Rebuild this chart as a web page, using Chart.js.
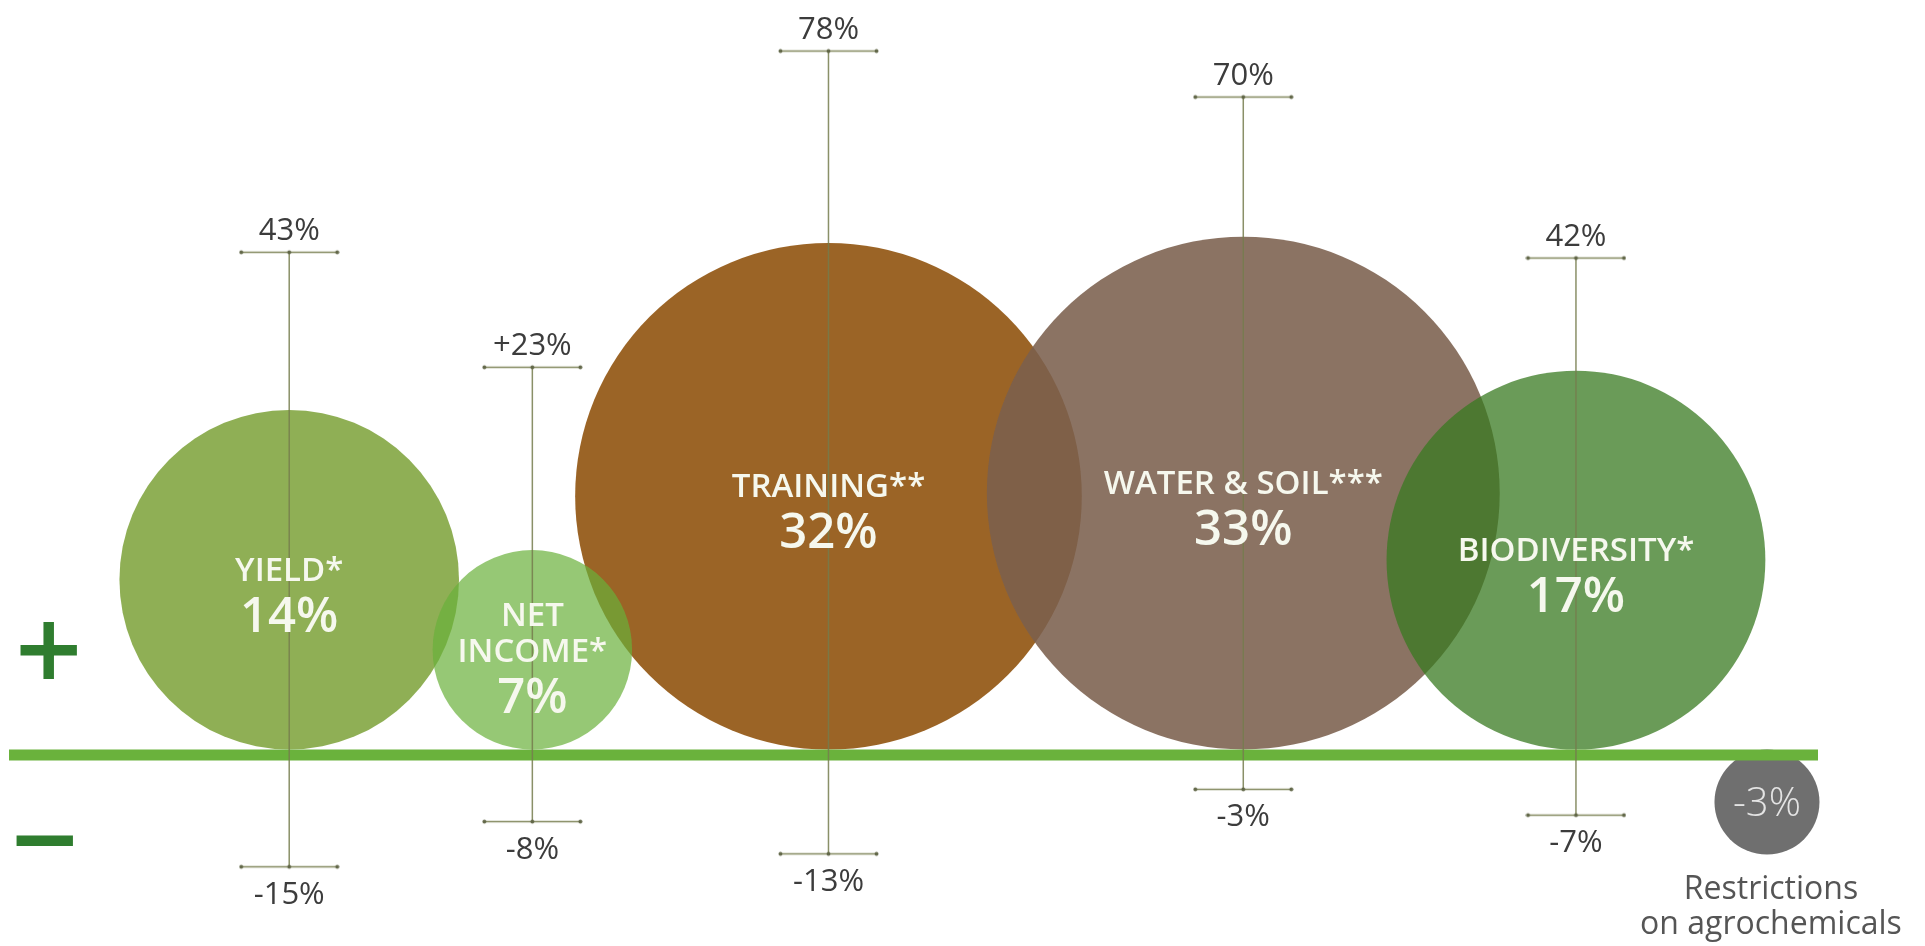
<!DOCTYPE html>
<html>
<head>
<meta charset="utf-8">
<script src="https://cdn.jsdelivr.net/npm/chart.js@4.4.1/dist/chart.umd.min.js"></script>
<style>
  html, body { margin: 0; padding: 0; background: #ffffff; }
  #wrap { position: relative; width: 1925px; height: 946px; }
</style>
</head>
<body>
<div id="wrap"><canvas id="chart"></canvas></div>
<script>
// ---------------- data ----------------
const categories    = ['YIELD*', 'NET\nINCOME*', 'TRAINING**', 'WATER & SOIL***', 'BIODIVERSITY*'];
const averageEffect = [14, 7, 32, 33, 17];          // bubble values (%)
const highValues    = [43, 23, 78, 70, 42];         // upper end of range (%)
const lowValues     = [-15, -8, -13, -3, -7];       // lower end of range (%)
const highLabels    = ['43%', '+23%', '78%', '70%', '42%'];
const lowLabels     = ['-15%', '-8%', '-13%', '-3%', '-7%'];
const restrictionName   = ['Restrictions', 'on agrochemicals'];
const restrictionEffect = -3;

// ---------------- layout / style (kept apart from the data) ----------------
const X_MIN = 0, X_MAX = 100;
const xPositions   = [15.49, 28.93, 45.30, 68.23, 86.62];   // along the hidden x axis
const restrictionX = 97.18;
const bubbleColors = [
  'rgba(123,161,55,0.85)',
  'rgba(105,176,58,0.70)',
  'rgba(144,83,14,0.90)',
  'rgba(123,96,77,0.88)',
  'rgba(56,122,32,0.75)'
];
const bubbleLayer = [7, 3, 6, 5, 4];   // lower = drawn on top
const WHISKER = 'rgba(118,124,78,0.85)';

// ---------------- custom value scale ----------------
// distance from the zero line = base + unit * f(|v|), f = power or natural log, per sign
const BaseLinear = Chart.LinearScale || Chart.registry.getScale('linear');
class SignedPowerScale extends BaseLinear {
  _side(v, prefix) {
    const o = this.options;
    const base = o[prefix + 'Base'] || 0;
    const unit = o[prefix + 'Unit'];
    const f = o[prefix + 'Log'] ? Math.log(v) : Math.pow(v, o[prefix + 'Power'] ?? 1);
    return base + unit * f;
  }
  _offset(v) {
    if (v === 0) return 0;
    return v > 0 ? this._side(v, 'positive') : -this._side(-v, 'negative');
  }
  getPixelForValue(value) {
    const h = this.bottom - this.top;
    return this.top + h * (this.options.origin - this._offset(value));
  }
  getValueForPixel(pixel) {
    const o = this.options;
    const h = this.bottom - this.top;
    const off = o.origin - (pixel - this.top) / h;
    const inv = (d, prefix) => {
      const t = (d - (o[prefix + 'Base'] || 0)) / o[prefix + 'Unit'];
      return o[prefix + 'Log'] ? Math.exp(t) : Math.pow(Math.max(0, t), 1 / (o[prefix + 'Power'] ?? 1));
    };
    return off >= 0 ? inv(off, 'positive') : -inv(-off, 'negative');
  }
}
SignedPowerScale.id = 'signedPower';
SignedPowerScale.defaults = BaseLinear.defaults;
Chart.register(SignedPowerScale);

// ---------------- helpers ----------------
function makeCap() {
  const c = document.createElement('canvas');
  c.width = 101; c.height = 7;
  const g = c.getContext('2d');
  g.strokeStyle = 'rgba(118,124,78,0.9)';
  g.lineWidth = 1.5;
  g.beginPath(); g.moveTo(2, 3.5); g.lineTo(99, 3.5); g.stroke();
  g.fillStyle = 'rgba(95,100,70,0.95)';
  [2.5, 50.5, 98.5].forEach(px => { g.beginPath(); g.arc(px, 3.5, 2, 0, Math.PI * 2); g.fill(); });
  return c;
}
const capImage = makeCap();

// bubble radius: distance on the bubble axis from 0 to the value
function bubbleRadius(ctx) {
  const s = ctx.chart.scales.yb;
  const v = ctx.raw ? ctx.raw.y : 0;
  const r = Math.abs(s.getPixelForValue(0) - s.getPixelForValue(v));
  return isFinite(r) ? r : 0;
}

// ---------------- datasets ----------------
const makeBubble = (label, x, v, color, order) => ({
  type: 'scatter',
  label,
  yAxisID: 'yb',
  order,
  data: [{ x, y: v }],
  showLine: false,
  pointStyle: 'circle',
  pointBackgroundColor: color,
  pointBorderWidth: 0,
  pointBorderColor: 'rgba(0,0,0,0)',
  pointRadius: bubbleRadius,
  pointHoverRadius: bubbleRadius,
  clip: false
});

const bubbleSets = categories.map((name, i) =>
  makeBubble(name, xPositions[i], averageEffect[i], bubbleColors[i], bubbleLayer[i]));

const restrictionSet = makeBubble(restrictionName.join(' '), restrictionX, restrictionEffect, '#6f6f6f', 3);

const baselineSet = {
  type: 'line',
  label: 'baseline',
  yAxisID: 'y',
  order: 2,
  data: [{ x: X_MIN, y: 0 }, { x: X_MAX, y: 0 }],
  borderColor: '#6ab23c',
  borderWidth: 11,
  borderCapStyle: 'butt',
  pointRadius: 0,
  clip: false
};

const whiskerSet = {
  type: 'line',
  label: 'range',
  yAxisID: 'y',
  order: 1,
  data: categories.flatMap((_, i) => [
    { x: xPositions[i], y: highValues[i] },
    { x: xPositions[i], y: lowValues[i] },
    { x: xPositions[i], y: null }
  ]),
  borderColor: WHISKER,
  borderWidth: 1.5,
  pointRadius: 0,
  spanGaps: false,
  clip: false
};

const capSet = {
  type: 'scatter',
  label: 'caps',
  yAxisID: 'y',
  order: 0,
  data: categories.flatMap((_, i) => [
    { x: xPositions[i], y: highValues[i] },
    { x: xPositions[i], y: lowValues[i] }
  ]),
  pointStyle: capImage,
  pointRadius: 3,
  showLine: false,
  clip: false
};

// ---------------- text plugin ----------------
const annotate = {
  id: 'annotate',
  afterDatasetsDraw(chart) {
    const { ctx, chartArea, scales: { x, y, yb } } = chart;
    ctx.save();
    ctx.textAlign = 'center';
    ctx.textBaseline = 'alphabetic';

    // range labels
    ctx.fillStyle = '#3c3c3c';
    ctx.font = '400 31px "Open Sans"';
    categories.forEach((_, i) => {
      const px = x.getPixelForValue(xPositions[i]);
      ctx.fillText(highLabels[i], px, y.getPixelForValue(highValues[i]) - 12);
      ctx.fillText(lowLabels[i], px, y.getPixelForValue(lowValues[i]) + 37);
    });

    // bubble labels
    ctx.fillStyle = '#f6f8ee';
    categories.forEach((name, i) => {
      const px = x.getPixelForValue(xPositions[i]);
      const cy = yb.getPixelForValue(averageEffect[i]);
      const lines = name.split('\n');
      let by = cy + 1 - (lines.length - 1) * 25;
      ctx.font = '600 33px "Open Sans"';
      lines.forEach(l => { ctx.fillText(l, px, by); by += 36; });
      ctx.font = '600 49px "Open Sans"';
      ctx.fillText(averageEffect[i] + '%', px, by - 36 + 51);
    });

    // restriction bubble
    const rx = x.getPixelForValue(restrictionX);
    const rcy = yb.getPixelForValue(restrictionEffect);
    ctx.fillStyle = '#e4e4e4';
    ctx.font = '300 40px "Open Sans"';
    ctx.fillText(restrictionEffect + '%', rx, rcy + 14);
    ctx.fillStyle = '#555555';
    ctx.font = '400 32px "Open Sans"';
    ctx.fillText(restrictionName[0], rx + 4, rcy + 97);
    ctx.fillText(restrictionName[1], rx + 4, rcy + 132);

    // plus / minus signs
    const zero = y.getPixelForValue(0);
    ctx.fillStyle = '#2f7d2f';
    ctx.font = 'bold 90px "DejaVu Sans"';
    ctx.textAlign = 'left';
    const drawSign = (t, cx, cyy) => {
      const m = ctx.measureText(t);
      const w = m.actualBoundingBoxLeft + m.actualBoundingBoxRight;
      const gx = cx - w / 2 + m.actualBoundingBoxLeft;
      const gy = cyy + (m.actualBoundingBoxAscent - m.actualBoundingBoxDescent) / 2;
      ctx.fillText(t, gx, gy);
    };
    drawSign('+', chartArea.left + 39.5, zero - 105.5);
    drawSign('\u2212', chartArea.left + 35.5, zero + 85);
    ctx.restore();
  }
};

// ---------------- chart ----------------
new Chart(document.getElementById('chart'), {
  type: 'scatter',
  data: { datasets: [...bubbleSets, restrictionSet, baselineSet, whiskerSet, capSet] },
  options: {
    responsive: true,
    maintainAspectRatio: false,
    animation: false,
    events: [],
    layout: { padding: { left: 9, right: 107, top: 0, bottom: 0 }, autoPadding: false },
    plugins: { legend: { display: false }, tooltip: { enabled: false } },
    scales: {
      x: { type: 'linear', min: X_MIN, max: X_MAX, display: false },
      y: {
        type: 'signedPower', display: false,
        origin: 0.7981,
        positiveBase: 0.27008, positiveUnit: 0.006078, positivePower: 1,
        negativeBase: 0.01586, negativeUnit: 0.006818, negativePower: 1
      },
      yb: {
        type: 'signedPower', display: false, position: 'right',
        origin: 0.7923,
        positiveBase: -0.10243, positiveUnit: 0.10682, positiveLog: true,
        negativeUnit: 0.03204, negativePower: 0.5
      }
    }
  },
  plugins: [annotate]
});
</script>
</body>
</html>
